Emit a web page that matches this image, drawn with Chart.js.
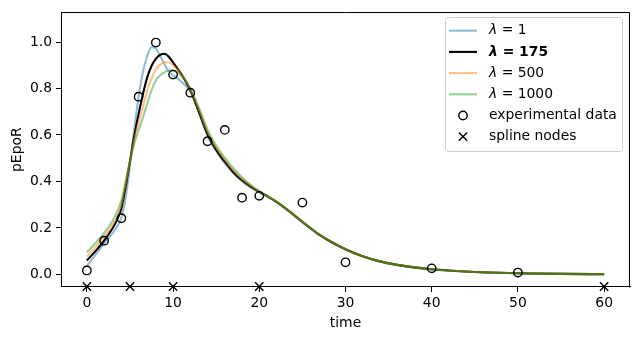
<!DOCTYPE html>
<html>
<head>
<meta charset="utf-8">
<script src="https://cdn.jsdelivr.net/npm/chart.js@4"></script>
<style>
html,body{margin:0;padding:0;background:#fff;}
#c{display:block;}
</style>
</head>
<body>
<canvas id="c" width="640" height="340"></canvas>
<script>
// ---- data ----
const timeGrid = [0,1,2,3,3.5,4,4.5,5,5.5,6,6.5,7,7.5,8,8.5,9,9.5,10,11,12,13,14,15,16,17,18,19,20,21,22,23,24,25,26,27,28,30,32,34,36,38,40,45,50,55,60];
const lambda1    = [0.035,0.085,0.133,0.178,0.205,0.245,0.330,0.470,0.625,0.765,0.870,0.940,0.978,0.972,0.940,0.905,0.873,0.857,0.828,0.788,0.695,0.596,0.530,0.478,0.435,0.400,0.375,0.353,0.334,0.311,0.284,0.255,0.225,0.196,0.169,0.146,0.107,0.077,0.055,0.040,0.029,0.021,0.010,0.004,0.002,0.001];
const lambda175  = [0.060,0.100,0.145,0.200,0.235,0.285,0.378,0.487,0.597,0.690,0.775,0.848,0.897,0.928,0.945,0.950,0.937,0.912,0.860,0.793,0.700,0.603,0.537,0.485,0.440,0.405,0.378,0.355,0.335,0.312,0.285,0.256,0.226,0.197,0.170,0.147,0.108,0.078,0.056,0.041,0.030,0.022,0.010,0.005,0.002,0.001];
const lambda500  = [0.077,0.118,0.162,0.215,0.250,0.300,0.390,0.488,0.583,0.655,0.722,0.790,0.843,0.882,0.903,0.913,0.913,0.900,0.862,0.796,0.708,0.612,0.545,0.493,0.447,0.410,0.381,0.356,0.335,0.312,0.285,0.256,0.226,0.197,0.170,0.147,0.108,0.078,0.056,0.041,0.030,0.022,0.010,0.005,0.002,0.001];
const lambda1000 = [0.095,0.135,0.178,0.232,0.270,0.318,0.400,0.487,0.563,0.620,0.675,0.735,0.793,0.835,0.857,0.870,0.878,0.877,0.855,0.800,0.718,0.623,0.555,0.503,0.457,0.418,0.386,0.358,0.336,0.313,0.286,0.257,0.227,0.198,0.171,0.148,0.109,0.078,0.056,0.041,0.030,0.022,0.010,0.005,0.002,0.001];
const expTime   = [0,2,4,6,8,10,12,14,16,18,20,25,30,40,50];
const expValues = [0.017,0.145,0.242,0.765,0.998,0.860,0.782,0.573,0.622,0.330,0.338,0.309,0.052,0.026,0.008];
const nodeTime   = [0,5,10,20,60];
const nodeValues = [-0.052,-0.052,-0.052,-0.052,-0.052];
const xTicks = [0,10,20,30,40,50,60];
const yTicks = [0,0.2,0.4,0.6,0.8,1.0];
const seriesNames = ['1','175','500','1000'];
const xTitle = 'time';
const yTitle = 'pEpoR';
const dataLabel = 'experimental data';
const nodeLabel = 'spline nodes';

const FONT = 'DejaVu Sans';
const FS = 13.9;

function pts(xs, ys){ return xs.map((x,i)=>({x:x, y:ys[i]})); }

const series = [lambda1, lambda175, lambda500, lambda1000];
const colors = ['rgba(31,119,180,0.5)','#000000','rgba(255,127,14,0.5)','rgba(44,160,44,0.5)'];
const orders = [4,3,2,1];

const datasets = series.map((s,i)=>({
  label: 'λ = ' + seriesNames[i],
  data: pts(timeGrid, s),
  borderColor: colors[i],
  backgroundColor: colors[i],
  borderWidth: 2.1,
  pointRadius: 0,
  pointHoverRadius: 0,
  fill: false,
  cubicInterpolationMode: 'monotone',
  order: orders[i],
  _bold: i === 1
}));
datasets.push({
  label: dataLabel,
  data: pts(expTime, expValues),
  showLine: false,
  pointStyle: 'circle',
  pointRadius: 4.2,
  pointBorderWidth: 1.4,
  borderColor: '#000',
  backgroundColor: 'rgba(0,0,0,0)',
  pointBackgroundColor: 'rgba(0,0,0,0)',
  order: 0
});
datasets.push({
  label: nodeLabel,
  data: pts(nodeTime, nodeValues),
  showLine: false,
  pointStyle: 'crossRot',
  pointRadius: 5.9,
  pointBorderWidth: 1.4,
  borderColor: '#000',
  backgroundColor: '#000',
  order: 0,
  clip: false
});

const framePlugin = {
  id: 'frame',
  afterDatasetsDraw(chart){
    const {ctx, chartArea:a} = chart;
    ctx.save();
    ctx.strokeStyle = '#000';
    ctx.lineWidth = 1;
    ctx.beginPath();
    ctx.moveTo(Math.round(a.left)+0.5, Math.round(a.top)+0.5);
    ctx.lineTo(Math.round(a.right)-0.5, Math.round(a.top)+0.5);
    ctx.lineTo(Math.round(a.right)-0.5, Math.round(a.bottom)+0.5);
    ctx.stroke();
    ctx.restore();
  }
};

function roundRect(ctx,x,y,w,h,r){
  ctx.beginPath();
  ctx.moveTo(x+r,y);
  ctx.lineTo(x+w-r,y); ctx.arcTo(x+w,y,x+w,y+r,r);
  ctx.lineTo(x+w,y+h-r); ctx.arcTo(x+w,y+h,x+w-r,y+h,r);
  ctx.lineTo(x+r,y+h); ctx.arcTo(x,y+h,x,y+h-r,r);
  ctx.lineTo(x,y+r); ctx.arcTo(x,y,x+r,y,r);
  ctx.closePath();
}

const legendPlugin = {
  id: 'mplLegend',
  afterDraw(chart){
    const ctx = chart.ctx;
    const ds = chart.data.datasets;
    const bx = 445.5, by = 17.5, bw = 177, bh = 134;
    ctx.save();
    roundRect(ctx,bx,by,bw,bh,3);
    ctx.fillStyle = 'rgba(255,255,255,0.8)';
    ctx.fill();
    ctx.strokeStyle = '#cccccc';
    ctx.lineWidth = 1;
    ctx.stroke();
    const x0 = 449, x1 = 477, tx = 489;
    const rowY = i => 30.7 + 21.2*i;
    ctx.textBaseline = 'middle';
    for (let i=0;i<ds.length;i++){
      const d = ds[i];
      const y = rowY(i);
      if (d.showLine === false){
        const mx = (x0+x1)/2;
        ctx.strokeStyle = '#000';
        ctx.lineWidth = 1.4;
        ctx.beginPath();
        if (d.pointStyle === 'circle'){
          ctx.arc(mx, y, 4.2, 0, Math.PI*2);
        } else {
          const r = 4.15;
          ctx.moveTo(mx-r,y-r); ctx.lineTo(mx+r,y+r);
          ctx.moveTo(mx-r,y+r); ctx.lineTo(mx+r,y-r);
        }
        ctx.stroke();
        ctx.fillStyle = '#000';
        ctx.font = FS + 'px "' + FONT + '"';
        ctx.fillText(d.label, tx, y);
      } else {
        ctx.strokeStyle = d.borderColor;
        ctx.lineWidth = 2.1;
        ctx.beginPath();
        ctx.moveTo(x0, y); ctx.lineTo(x1, y);
        ctx.stroke();
        ctx.fillStyle = '#000';
        const w = d._bold ? 'bold ' : '';
        const parts = d.label.split(' = ');
        ctx.font = 'italic ' + w + FS + 'px "' + FONT + '"';
        ctx.fillText(parts[0], tx, y);
        let xx = tx + ctx.measureText(parts[0]).width;
        ctx.font = w + FS + 'px "' + FONT + '"';
        ctx.fillText(' = ' + parts[1], xx, y);
      }
    }
    ctx.restore();
  }
};

Chart.defaults.font.family = FONT;
Chart.defaults.font.size = FS;
Chart.defaults.color = '#000';

new Chart(document.getElementById('c'), {
  type: 'line',
  data: { datasets: datasets },
  options: {
    responsive: false,
    animation: false,
    devicePixelRatio: 1,
    layout: { padding: { top: 10, right: 10, left: 0, bottom: 0 } },
    plugins: { legend: { display: false }, tooltip: { enabled: false } },
    events: [],
    scales: {
      x: {
        type: 'linear',
        min: -3, max: 63,
        afterBuildTicks(s){ s.ticks = xTicks.map(v=>({value:v})); },
        afterFit(s){ s.height = 53; },
        grid: { drawOnChartArea: false, drawTicks: true, tickLength: 5, tickWidth: 1, tickColor: '#000' },
        border: { display: true, color: '#000', width: 1 },
        ticks: { autoSkip: false, maxRotation: 0, padding: 3, color: '#000', font: {size: FS, family: FONT},
                 callback: v => String(v) },
        title: { display: true, text: xTitle, color: '#000', font: {size: FS, family: FONT}, padding: {top: 0, bottom: 8} }
      },
      y: {
        type: 'linear',
        min: -0.0543, max: 1.128,
        afterBuildTicks(s){ s.ticks = yTicks.map(v=>({value:v})); },
        afterFit(s){ s.width = 61; },
        grid: { drawOnChartArea: false, drawTicks: true, tickLength: 5, tickWidth: 1, tickColor: '#000' },
        border: { display: true, color: '#000', width: 1 },
        ticks: { autoSkip: false, padding: 4, color: '#000', font: {size: FS, family: FONT},
                 callback: v => v.toFixed(1) },
        title: { display: true, text: yTitle, color: '#000', font: {size: FS, family: FONT}, padding: {top: 9, bottom: 0} }
      }
    }
  },
  plugins: [framePlugin, legendPlugin]
});
</script>
</body>
</html>
